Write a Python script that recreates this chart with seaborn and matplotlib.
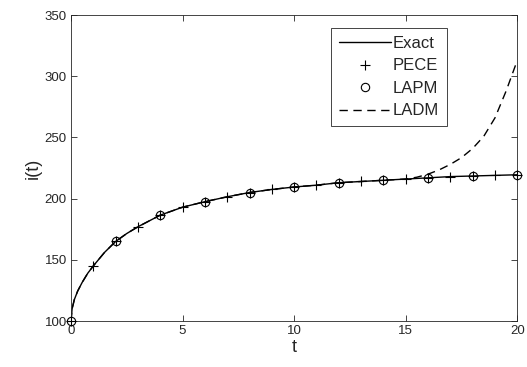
import numpy as np
import pandas as pd
import matplotlib
matplotlib.use("Agg")
import matplotlib.pyplot as plt
import seaborn as sns

# Exact solution
exact_t = [0, 0.05, 0.15, 0.3, 0.5, 0.75, 1, 1.5, 2, 2.5, 3,
           4, 5, 6, 7, 8, 9, 10, 11, 12, 13, 14, 15, 16, 17, 18, 19, 20]
exact_i = [100, 110, 117.5, 124.5, 131.5, 139, 145, 156, 165, 171.5, 177,
           186.5, 193, 197.5, 201.5, 205, 207.5, 209.5, 211, 213, 214, 215,
           216, 217, 218, 218.5, 219, 219.5]

# PECE markers at t = 0..20
pece_t = list(range(0, 21))
pece_i = [100, 145, 165, 177, 186.5, 193, 197.5, 201.5, 205, 207.5, 209.5,
          211, 213, 214, 215, 216, 217, 218, 218.5, 219, 219.5]

# LAPM markers at even t
lapm_t = list(range(0, 21, 2))
lapm_i = [100, 165, 186.5, 197.5, 205, 209.5, 213, 215, 217, 218.5, 219.5]

# LADM (dashed), diverges after t ~ 15
ladm_t = [0, 0.05, 0.15, 0.3, 0.5, 0.75, 1, 1.5, 2, 2.5, 3,
          4, 5, 6, 7, 8, 9, 10, 11, 12, 13, 14, 15,
          15.5, 16, 16.5, 17, 17.5, 18, 18.5, 19, 19.5, 20]
ladm_i = [100, 110, 117.5, 124.5, 131.5, 139, 145, 156, 165, 171.5, 177,
          186.5, 193, 197.5, 201.5, 205, 207.5, 209.5, 211, 213, 214, 215, 216,
          217.5, 220, 223.5, 228, 233.5, 241, 251, 266, 288, 313]

sns.set_style("ticks")
plt.rcParams["font.family"] = ["Liberation Sans", "DejaVu Sans"]
axis_col = "#262626"

fig = plt.figure(figsize=(5.27, 3.67), dpi=100)
ax = fig.add_axes([0.1347, 0.1253, 0.8469, 0.8337])

sns.lineplot(x=exact_t, y=exact_i, ax=ax, color="black", lw=1.0,
             label="Exact", sort=False)
sns.lineplot(x=pece_t, y=pece_i, ax=ax, color="black", ls="none",
             marker="+", ms=6.5, mew=0.8, mec="black", label="PECE",
             sort=False, clip_on=False, zorder=3)
sns.lineplot(x=lapm_t, y=lapm_i, ax=ax, color="black", ls="none",
             marker="o", ms=6, mew=0.8, mfc="none", mec="black",
             label="LAPM", sort=False, clip_on=False, zorder=3)
sns.lineplot(x=ladm_t, y=ladm_i, ax=ax, color="black", lw=1.0,
             ls=(0, (6, 4)), label="LADM", sort=False)

ax.set_xlim(0, 20)
ax.set_ylim(100, 350)
ax.set_xticks([0, 5, 10, 15, 20])
ax.set_yticks([100, 150, 200, 250, 300, 350])
ax.tick_params(direction="in", length=4, width=0.6, colors=axis_col,
               labelsize=9.5, top=True, right=True, pad=3)
for s in ax.spines.values():
    s.set_visible(True)
    s.set_color(axis_col)
    s.set_linewidth(0.6)

ax.set_xlabel("t", fontsize=13, color=axis_col, labelpad=1)
ax.set_ylabel("i(t)", fontsize=13, color=axis_col, labelpad=2)

leg = ax.legend(loc="upper right", bbox_to_anchor=(0.842, 0.9565),
                fontsize=12, frameon=True, fancybox=False, handlelength=3.1,
                handletextpad=0.15, borderpad=0.45, labelspacing=0.45,
                borderaxespad=0)
leg.get_frame().set_edgecolor(axis_col)
leg.get_frame().set_linewidth(0.6)
leg.get_frame().set_alpha(1)

fig.savefig("out.png", dpi=100)
